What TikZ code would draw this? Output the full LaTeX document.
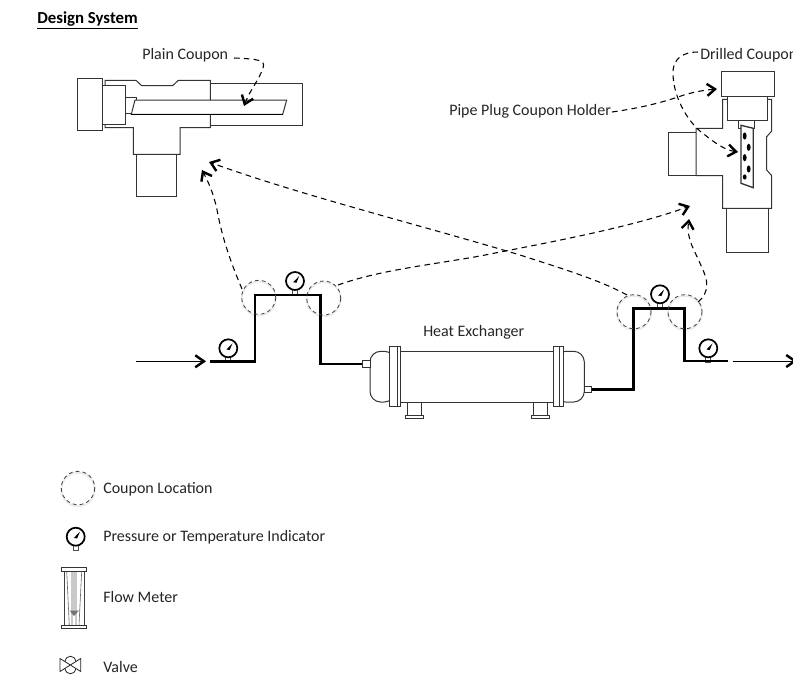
\documentclass[tikz,border=0pt]{standalone}
\usepackage{fontspec}
\setmainfont{Carlito}
\usetikzlibrary{arrows.meta}
\tikzset{
  x=0.75pt,y=-0.75pt,
  part/.style={draw=black!80,line width=0.75pt,fill=white,line join=miter},
  couponplate/.style={draw=black!80,line width=0.75pt,fill=white},
  pipe/.style={draw=black,line width=2.2pt,line join=miter},
  flow/.style={draw=black,line width=0.6pt,-{Straight Barb[length=6.5pt,width=9pt,line width=1.8pt]}},
  callout/.style={draw=black,line width=0.8pt,dash pattern=on 4.2pt off 3.2pt,-{Straight Barb[length=6pt,width=9pt,line width=1.8pt]}},
  label/.style={inner sep=0pt,font=\fontsize{12pt}{14pt}\selectfont,text=black!85,anchor=west},
  locring/.style={draw=black!75,line width=0.6pt,dash pattern=on 2.8pt off 2.4pt},
  locglow/.style={draw=black!8,line width=1.4pt},
  hx/.style={draw=black!80,line width=0.75pt,fill=white},
  gauge/.pic={
    \draw[draw=black!70,fill=white,line width=0.5pt] (-2.5,8.5) rectangle (2.5,14);
    \draw[draw=black,fill=white,line width=1.3pt] (0,0) circle (9);
    \draw[fill=black,draw=none] (-1.8,1.2) -- (4.2,-5) -- (1.4,1.8) -- cycle;
  },
}
\begin{document}
\begin{tikzpicture}
\useasboundingbox (0,0) rectangle (793,675);
\clip (0,0) rectangle (793,675);
\fill[white] (0,0) rectangle (793,675);

% ---------- title
\node[label,font=\fontsize{12.6pt}{14pt}\selectfont\bfseries,text=black] (title) at (37,20) {\underline{Design System}};

% ---------- plain coupon fitting
\draw[part] (136,154.3) rectangle (176.7,196.7);
\draw[part] (210.3,83.7) rectangle (302.3,125);
\draw[part] (105,85.3) -- (105,80.3) -- (136,80.3) -- (141.7,85.7) -- (172.7,85.7) -- (178.3,80.3) -- (210.3,80.3) -- (210.3,127.7) -- (180,127.7) -- (180,154.3) -- (133.3,154.3) -- (133.3,127.7) -- (105,127.7) -- cycle;
\draw[part] (77.7,78.3) rectangle (102,130);
\draw[part] (102,85.3) rectangle (125.3,124);
\draw[part] (125.3,97.7) rectangle (136,113.3);
\draw[couponplate] (135,100) -- (286.7,100) -- (282.7,114.3) -- (131.3,114.3) -- cycle;
\draw[black,line width=1.2pt] (131.3,114.3) -- (282.7,114.3);

% ---------- drilled coupon fitting
\draw[part] (726,208.3) rectangle (768.3,252.7);
\draw[part] (668.3,132.7) rectangle (696,175.7);
\draw[part] (727.7,99.3) -- (722.7,99.3) -- (722.7,128.3) -- (696,128.3) -- (696,175.7) -- (722.7,175.7) -- (722.7,208.3) -- (771.7,208.3) -- (771.7,175.7) -- (766.7,170) -- (766.7,136.7) -- (771.7,131) -- (771.7,99.3) -- (767.7,99.3);
\draw[part] (721,71) rectangle (774.3,96);
\draw[part] (727.7,96) rectangle (767.7,120);
\draw[part] (738.3,120) rectangle (754.3,128);
\draw[couponplate,line width=1pt] (741,125.3) -- (753.3,128.3) -- (753.3,187.7) -- (741,183.3) -- cycle;
\foreach \hx/\hy/\hr in {744.7/136/3.6,748.7/147.3/3.6,744.7/157.7/3.6,748.7/169/3.6,744.7/177/2.6}
  \fill[black] (\hx,\hy) ellipse (1.9 and \hr);

% ---------- heat exchanger
\draw[hx] (407.7,402) rectangle (421.7,415);
\draw[hx] (405.7,415) rectangle (423.7,418.3);
\draw[hx] (533.3,402) rectangle (547.3,415);
\draw[hx] (531.3,415) rectangle (549.3,418.3);
\draw[hx,rounded corners=8pt] (395,351.3) -- (370,351.3) -- (370,402) -- (395,402) -- cycle;
\draw[hx,rounded corners=8pt] (555,351.3) -- (584.3,351.3) -- (584.3,402) -- (555,402) -- cycle;
\draw[hx] (395,351.3) -- (555,351.3) -- (555,402) -- (395,402) -- cycle;
\draw[hx] (389.3,346) rectangle (400,406.7);
\draw[hx] (397,346) -- (397,406.7);
\draw[hx] (553.3,346) rectangle (563.3,406.7);
\draw[hx] (559.5,346) -- (559.5,406.7);
\node[draw=black!80,line width=0.7pt,fill=white,inner sep=0pt,minimum width=5.5pt,minimum height=5pt] (hxin) at (366.3,364) {};
\node[draw=black!80,line width=0.7pt,fill=white,inner sep=0pt,minimum width=5.5pt,minimum height=5pt] (hxout) at (588,389.3) {};

% ---------- named points of the pipe run
\coordinate (inA) at (136,361.3);
\coordinate (inB) at (206,361.3);
\coordinate (p1) at (210,361.3);
\coordinate (outA) at (727.7,361);
\coordinate (outB) at (732.7,361);
\coordinate (outC) at (797,361);

% ---------- coupon location rings
\foreach \nm/\cx/\cy in {r1/258.7/297.3,r2/323.7/298,r3/634/311.7,r4/685/311.7}{
  \draw[locglow] (\cx,\cy+1.2) circle (17);
}
\coordinate (r1) at (258.7,297.3);
\coordinate (r2) at (323.7,298);
\coordinate (r3) at (634,311.7);
\coordinate (r4) at (685,311.7);

% ---------- gauges under the pipe
\pic at (228.3,348.3) {gauge};
\pic at (295,281) {gauge};
\pic at (660,294.3) {gauge};
\pic at (708.3,348.3) {gauge};

% ---------- pipes
\draw[pipe] (p1) -- (255,361.3) -- (255,295) -- (320.7,295) -- (320.7,364) -- (hxin.west);
\draw[pipe] (hxout.east) -- (633.3,389.3) -- (633.3,308.7) -- (684.3,308.7) -- (684.3,361) -- (outA);
\draw[flow] (inA) -- (inB);
\draw[flow] (outB) -- (outC);
\foreach \nm in {r1,r2,r3,r4}
  \draw[locring] (\nm) circle (17);

% ---------- labels
\node[label] (plain) at (142,55) {Plain Coupon};
\node[label] (drilled) at (700,55) {Drilled Coupon};
\node[label] (holder) at (449,111) {Pipe Plug Coupon Holder};
\node[label] (hxlabel) at (423,332) {Heat Exchanger};
\node[label] (lg1) at (103,489) {Coupon Location};
\node[label] (lg2) at (103,537) {Pressure or Temperature Indicator};
\node[label] (lg3) at (103,597) {Flow Meter};
\node[label] (lg4) at (103,667) {Valve};

% ---------- callouts
\draw[callout] (234,58) .. controls (258,59) and (266,60) .. (263,68) .. controls (259,80) and (250,90) .. (244,106);
\draw[callout] (242,289) .. controls (234,270) and (224,245) .. (218,215) .. controls (215,198) and (210,185) .. (202,170);
\draw[callout] (627,295) .. controls (600,280) and (560,268) .. (520,255) .. controls (420,225) and (300,195) .. (209,162);
\draw[callout] (338,285) .. controls (380,270) and (430,265) .. (480,256) .. controls (540,244) and (630,228) .. (690,206);
\draw[callout] (698,302) .. controls (710,292) and (708,280) .. (702,268) .. controls (695,250) and (686,240) .. (689,219);
\draw[callout] (612,112) .. controls (640,108) and (660,103) .. (678,97) .. controls (692,92) and (705,90) .. (717,89);
\draw[callout] (698,52) .. controls (685,52) and (672,57) .. (673,75) .. controls (674,100) and (690,125) .. (705,135) .. controls (715,143) and (725,150) .. (738,152);

% ---------- legend
\draw[locglow] (78,489.5) circle (16.7);
\draw[locring] (78,488) circle (16.7);
\pic at (75.7,536.7) {gauge};
% flow meter
\draw[draw=black!75,line width=0.6pt] (64.7,571) -- (64.7,625.3) (84,571) -- (84,625.3);
\draw[draw=black!60,line width=0.45pt] (66.7,571) -- (69.3,625.3) (81.7,571) -- (79,625.3) (72,571) -- (72,625.3) (76,571) -- (76,625.3) (74,571) -- (74,612);
\fill[black!55] (69.5,610.5) -- (79,610.5) -- (74,616) -- cycle;
\draw[draw=black!80,line width=0.7pt,fill=white] (61.3,567.7) rectangle (86.7,571);
\draw[draw=black!80,line width=0.7pt,fill=white] (61.3,625.3) rectangle (86.7,628.7);
% valve
\draw[draw=black!85,line width=0.6pt] (60,658.5) -- (80.7,671.5) -- (80.7,658.5) -- (60,671.5) -- cycle;
\draw[draw=black!85,line width=0.6pt] (65,661.5) .. controls (66,654.5) and (75,654.5) .. (75.7,661.5);
\draw[draw=black!85,line width=0.6pt] (65,668.5) .. controls (66,675.5) and (75,675.5) .. (75.7,668.5);
\end{tikzpicture}
\end{document}
